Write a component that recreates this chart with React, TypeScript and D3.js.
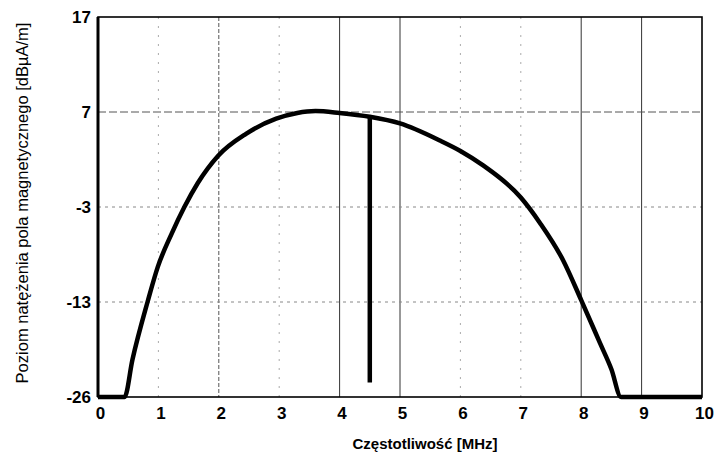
import * as d3 from "d3";
import { useEffect, useRef } from "react";

// frequency [MHz] and field level [dBuA/m]
const FREQ = [0, 0.44, 0.57, 0.82, 0.99, 1.22, 1.43, 1.65, 1.99, 2.45, 2.95, 3.3, 3.6, 4.0, 4.5, 5.0, 5.66, 6.0, 6.37, 7.0, 7.32, 7.7, 8.0, 8.31, 8.5, 8.66, 10];
const LEVEL = [-26, -26, -20.9, -13.0, -9.3, -5.8, -3.0, -0.5, 2.4, 4.7, 6.3, 6.9, 7.1, 6.9, 6.5, 5.8, 4.0, 2.9, 1.4, -2.0, -4.7, -8.6, -12.8, -18.6, -22.2, -26, -26];

// narrow notch near 4.5 MHz
const SPIKE_FREQ = [4.5, 4.5];
const SPIKE_LEVEL = [6.5, -24];

const X_TICKS = [0, 1, 2, 3, 4, 5, 6, 7, 8, 9, 10];
const Y_TICKS = [-26, -13, -3, 7, 17];
const X_SOLID = [4, 5, 8, 9];
const X_DOTTED = [1, 2, 3, 6, 7];
const Y_GRID = [-13, -3, 7];

const W = 716;
const H = 456;
const margin = { top: 17, right: 14, bottom: 59, left: 98 };
const FONT = "Liberation Sans, Arial, sans-serif";

const App = () => {
	const svgRef = useRef(null);

	useEffect(() => {
		const width = W - margin.left - margin.right;
		const height = H - margin.top - margin.bottom;

		const xScale = d3.scaleLinear().domain([0, 10]).range([0, width]);
		// the y axis labels are evenly spaced although the values are not
		const yScale = d3
			.scaleLinear()
			.domain(Y_TICKS)
			.range(Y_TICKS.map((_, i) => height - (i * height) / (Y_TICKS.length - 1)));

		const svgEl = d3.select(svgRef.current);
		svgEl.selectAll("*").remove();
		const svg = svgEl
			.append("g")
			.attr("transform", `translate(${margin.left},${margin.top})`);

		// vertical grid lines
		svg.selectAll(".vsolid")
			.data(X_SOLID)
			.enter()
			.append("line")
			.attr("x1", (d) => xScale(d))
			.attr("x2", (d) => xScale(d))
			.attr("y1", 0)
			.attr("y2", height)
			.attr("stroke", "#333")
			.attr("stroke-width", 1);

		svg.selectAll(".vdot")
			.data(X_DOTTED)
			.enter()
			.append("line")
			.attr("x1", (d) => xScale(d))
			.attr("x2", (d) => xScale(d))
			.attr("y1", 0)
			.attr("y2", height)
			.attr("stroke", (d) => (d === 2 ? "#555" : "#aaa"))
			.attr("stroke-width", 1)
			.attr("stroke-dasharray", (d) => (d === 2 ? "4,2" : "2,7"));

		// horizontal grid lines
		svg.selectAll(".hdot")
			.data(Y_GRID)
			.enter()
			.append("line")
			.attr("x1", 0)
			.attr("x2", width)
			.attr("y1", (d) => yScale(d))
			.attr("y2", (d) => yScale(d))
			.attr("stroke", (d) => (d === 7 ? "#555" : "#888"))
			.attr("stroke-width", 1)
			.attr("stroke-dasharray", (d) => (d === 7 ? "8,3" : "3,4"));

		// frame
		svg.append("rect")
			.attr("width", width)
			.attr("height", height)
			.attr("fill", "none")
			.attr("stroke", "#000")
			.attr("stroke-width", 1.6);
		svg.append("line")
			.attr("x1", 0)
			.attr("x2", 0)
			.attr("y1", 0)
			.attr("y2", height)
			.attr("stroke", "#000")
			.attr("stroke-width", 3);

		// axes (labels only)
		const xAxis = d3
			.axisBottom(xScale)
			.tickValues(X_TICKS)
			.tickSize(0)
			.tickPadding(10)
			.tickFormat((d) => `${d}`);
		const xg = svg.append("g").attr("transform", `translate(0,${height})`).call(xAxis);
		xg.select(".domain").remove();
		xg.selectAll("text")
			.attr("dx", 2)
			.attr("font-family", FONT)
			.attr("font-weight", "bold")
			.attr("font-size", 17)
			.attr("fill", "#000");

		const yAxis = d3
			.axisLeft(yScale)
			.tickValues(Y_TICKS)
			.tickSize(0)
			.tickPadding(7)
			.tickFormat((d) => `${d}`);
		const yg = svg.append("g").call(yAxis);
		yg.select(".domain").remove();
		yg.selectAll("text")
			.attr("font-family", FONT)
			.attr("font-weight", "bold")
			.attr("font-size", 17)
			.attr("fill", "#000");

		// axis titles
		svg.append("text")
			.attr("x", 425 - margin.left)
			.attr("y", height + 52)
			.attr("text-anchor", "middle")
			.attr("font-family", FONT)
			.attr("font-weight", "bold")
			.attr("font-size", 15)
			.text("Częstotliwość [MHz]");

		svg.append("text")
			.attr("transform", `translate(${28 - margin.left},${186}) rotate(-90)`)
			.attr("text-anchor", "middle")
			.attr("font-family", FONT)
			.attr("font-size", 16.5)
			.text("Poziom natężenia pola magnetycznego [dBµA/m]");

		// data
		const pts = FREQ.map((f, i) => [f, LEVEL[i]]);
		const line = d3
			.line()
			.x((d) => xScale(d[0]))
			.y((d) => yScale(d[1]))
			.curve(d3.curveMonotoneX);
		svg.append("path")
			.attr("d", line(pts))
			.attr("fill", "none")
			.attr("stroke", "#000")
			.attr("stroke-width", 4.5)
			.attr("stroke-linejoin", "round");

		const spike = SPIKE_FREQ.map((f, i) => [f, SPIKE_LEVEL[i]]);
		svg.append("path")
			.attr("d", d3.line().x((d) => xScale(d[0])).y((d) => yScale(d[1]))(spike))
			.attr("fill", "none")
			.attr("stroke", "#000")
			.attr("stroke-width", 4.5);
	}, []);

	return (
		<svg
			ref={svgRef}
			width={W}
			height={H}
			style={{ position: "absolute", left: 0, top: 0, background: "#fff" }}
		/>
	);
};

export default App;
